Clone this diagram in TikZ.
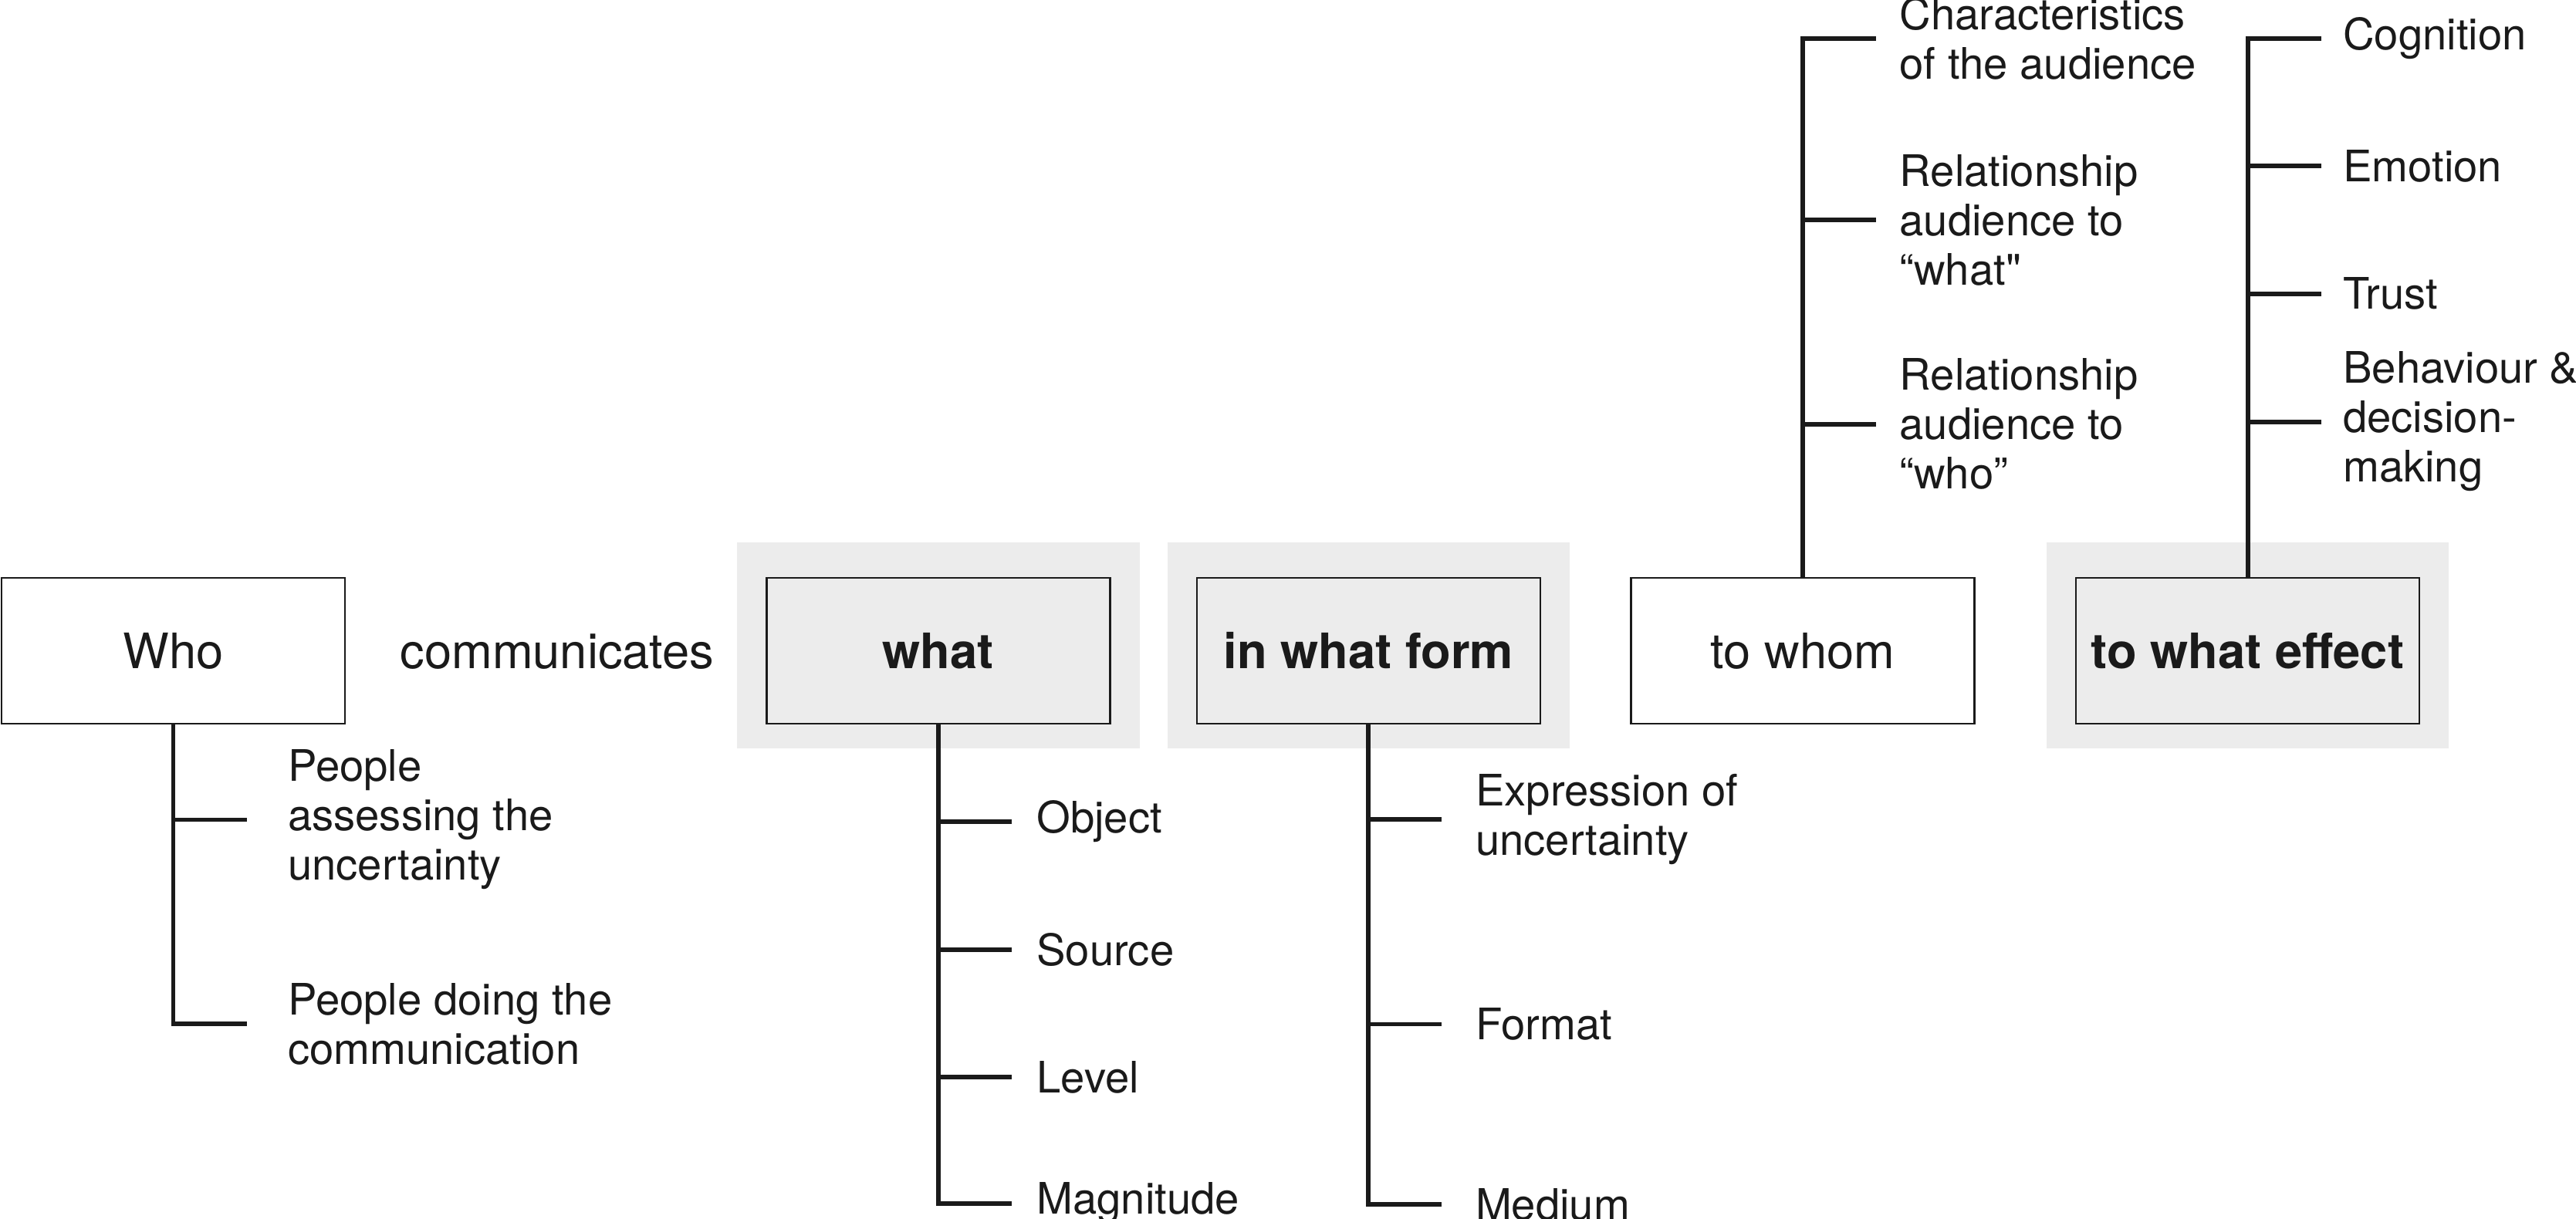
\documentclass[tikz,border=0pt]{standalone}
\usepackage{fontspec}
\setmainfont{TeX Gyre Heros}
\newfontfamily\rawfont{TeX Gyre Heros}
\usetikzlibrary{positioning}
\usetikzlibrary{backgrounds}
\definecolor{panelgray}{RGB}{236,236,236}
\definecolor{ink}{RGB}{26,26,26}

\begin{document}
\begin{tikzpicture}[color=ink, node distance=1cm,
    box/.style={draw, line width=0.8pt, minimum width=4.45cm, minimum height=1.89cm, inner sep=0, font=\fontsize{18}{21}\selectfont, text height=13pt, text depth=0pt},
    boldbox/.style={box, font=\fontsize{18}{21}\selectfont\bfseries},
    branch/.style={line width=1.7pt},
    leaf/.style={anchor=west, align=left, inner sep=0, font=\fontsize{16}{18.2}\selectfont}
]
\useasboundingbox (0,0) rectangle (33.38,-15.80);

\draw
    (2.245,-8.435) node [box, name=who] {Who}
    (7.22,-8.435) node [inner sep=0, font=\fontsize{18}{21}\selectfont, text height=13pt, text depth=0pt, name=comm] {communicates}
    (12.157,-8.435) node [boldbox, name=what] {what}
    (17.734,-8.435) node [boldbox, name=form] {in what form}
    (23.359,-8.435) node [box, name=whom] {to whom}
    (29.125,-8.435) node [boldbox, name=effect] {to what effect}
;

%% Panels
\begin{scope}[on background layer]
\foreach \n in {what, form, effect}
    \fill[panelgray] ([xshift=-0.37cm, yshift=-0.31cm]\n.south west) rectangle ([xshift=0.37cm, yshift=0.45cm]\n.north east);
\end{scope}

%% Branches
\foreach \y/\txt [count=\i] in {-10.625/{People\\assessing the\\uncertainty}, -13.27/{People doing the\\communication}} {
    \draw[branch] (who.south |- 0,\y) -- ++(0.95,0) coordinate (who tick\i);
    \node[leaf, right=0.53cm of who tick\i] (who leaf\i) {\txt};
}
\draw[branch] (who.south) |- (who tick2);

\foreach \y/\txt [count=\i] in {-10.646/Object, -12.31/Source, -13.964/Level, -15.595/Magnitude} {
    \draw[branch] (what.south |- 0,\y) -- ++(0.95,0) coordinate (what tick\i);
    \node[leaf, right=0.32cm of what tick\i] (what leaf\i) {\txt};
}
\draw[branch] (what.south) |- (what tick4);

\foreach \y/\txt [count=\i] in {-10.617/{Expression of\\uncertainty}, -13.275/Format, -15.61/Medium} {
    \draw[branch] (form.south |- 0,\y) -- ++(0.95,0) coordinate (form tick\i);
    \node[leaf, right=0.43cm of form tick\i] (form leaf\i) {\txt};
}
\draw[branch] (form.south) |- (form tick3);

\foreach \y/\txt [count=\i] in {-0.497/{Characteristics\\of the audience}, -2.85/{Relationship\\audience to\\“what{\rawfont"}}, -5.497/{Relationship\\audience to\\“who”}} {
    \draw[branch] (whom.north |- 0,\y) -- ++(0.95,0) coordinate (whom tick\i);
    \node[leaf, right=0.3cm of whom tick\i] (whom leaf\i) {\txt};
}
\draw[branch] (whom.north) |- (whom tick1);

\foreach \y/\txt [count=\i] in {-0.497/Cognition, -2.15/Emotion, -3.807/Trust, -5.466/{Behaviour \&\\decision-\\making}} {
    \draw[branch] (effect.north |- 0,\y) -- ++(0.95,0) coordinate (effect tick\i);
    \node[leaf, right=0.28cm of effect tick\i] (effect leaf\i) {\txt};
}
\draw[branch] (effect.north) |- (effect tick1);

\end{tikzpicture}
\end{document}
